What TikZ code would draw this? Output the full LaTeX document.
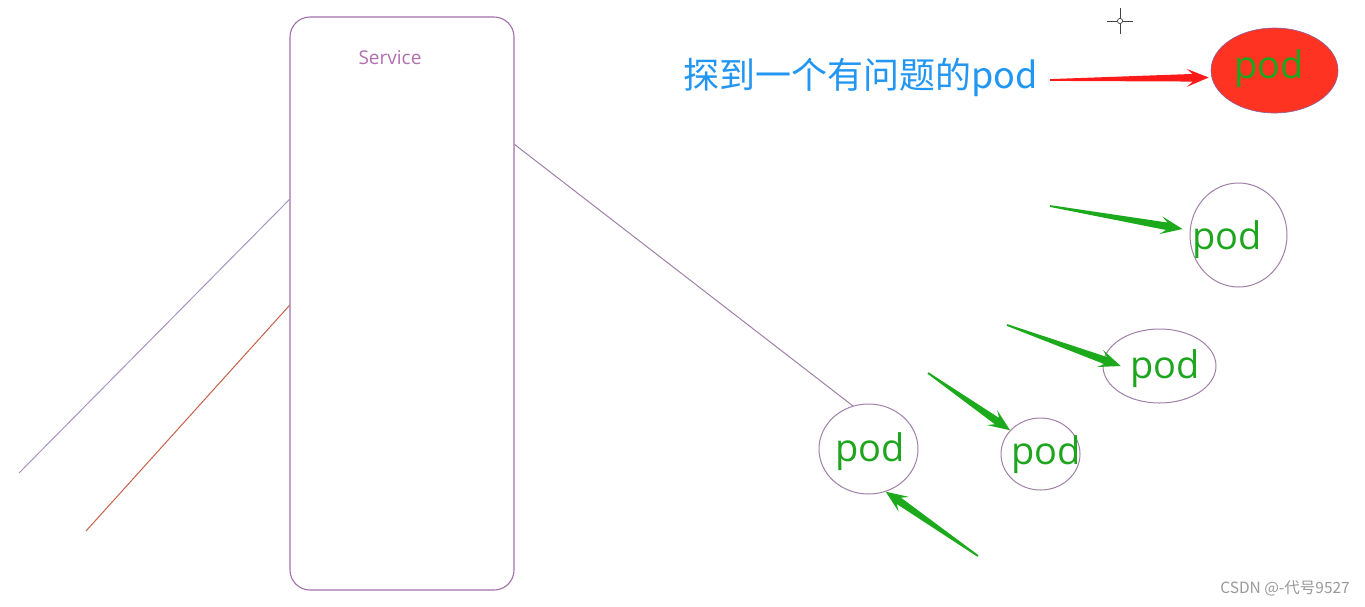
\documentclass[tikz,border=0pt]{standalone}
\usepackage{fontspec}
\setmainfont{Open Sans}
\newfontfamily\cjk{Noto Sans CJK SC}
\usetikzlibrary{calc,shapes.geometric}
\definecolor{boxc}{HTML}{A070A8}
\definecolor{svctext}{HTML}{B070B0}
\definecolor{lavline}{HTML}{A894C4}
\definecolor{redline}{HTML}{C8604A}
\definecolor{podline}{HTML}{A080A8}
\definecolor{podgreen}{HTML}{1EA51E}
\definecolor{arrgreen}{HTML}{1CAA1C}
\definecolor{arrred}{HTML}{FF1A1A}
\definecolor{podred}{HTML}{FF3322}
\definecolor{podredline}{HTML}{8A5FA0}
\definecolor{bluetext}{HTML}{2196F3}
\definecolor{wmgray}{HTML}{9A9A9A}
\newcommand\wedgearrow[3]{%
  \coordinate (was) at ($(#2)!16pt!(#1)$);
  \coordinate (wab) at ($(#2)!22pt!(#1)$);
  \fill[#3] ($(#1)!0.9pt!90:(#2)$) -- ($(was)!3.8pt!90:(#2)$) -- ($(wab)!9pt!90:(#2)$) -- (#2)
    -- ($(wab)!9pt!-90:(#2)$) -- ($(was)!3.8pt!-90:(#2)$) -- ($(#1)!0.9pt!-90:(#2)$) -- cycle;}
\tikzset{
  thinline/.style={line width=1pt},
  pod/.style={ellipse, draw=podline, line width=1pt, inner sep=0pt},
  podtext/.style={text=podgreen, font=\fontsize{38}{40}\selectfont, inner sep=0pt},
}
\begin{document}
\begin{tikzpicture}[x=1pt,y=-1pt]
\useasboundingbox[fill=white] (0,0) rectangle (1365,606);
% service box
\node[draw=boxc, line width=1.1pt, rounded corners=20pt, minimum width=224pt, minimum height=573pt, inner sep=0pt] (service) at (402,303.5) {};
\node[text=svctext, font=\fontsize{19}{21}\selectfont, inner sep=0pt] (svclabel) at (390,58) {Service};
% left lines
\coordinate (la) at (19,473);
\coordinate (lb) at (86,531);
\draw[lavline, thinline] (la) -- ($(service.north west)+(0,183)$);
\draw[redline, thinline] (lb) -- ($(service.north west)+(0,289)$);
% pods
\node[pod, minimum width=99pt, minimum height=90pt] (pod1) at (868.5,449) {};
\node[pod, minimum width=79pt, minimum height=72pt] (pod2) at (1040.5,454) {};
\node[pod, minimum width=113pt, minimum height=74pt] (pod3) at (1159.5,366) {};
\node[pod, minimum width=97pt, minimum height=104pt] (pod4) at (1238.5,235) {};
\node[ellipse, fill=podred, draw=podredline, line width=0.6pt, inner sep=0pt, minimum width=127pt, minimum height=85pt] (podr) at (1274.5,70.5) {};
\node[podtext] (t1) at (870,452) {pod};
\node[podtext] (t2) at (1046,455) {pod};
\node[podtext] (t3) at (1165,369) {pod};
\node[podtext] (t4) at (1227,240) {pod};
\node[podtext] (tr) at (1269,69) {pod};
% service to pod1
\draw[podline, thinline] ($(service.north east)+(0,128)$) -- (pod1.110);
% label text
\node[text=bluetext, font=\cjk\fontsize{36}{38}\selectfont, inner sep=0pt, anchor=west] (msg) at (683,77) {探到一个有问题的pod};
% arrows
\coordinate (ar0) at (1050,80);
\coordinate (tipr) at ($(podr.west)+(-2,7)$);
\wedgearrow{ar0}{tipr}{arrred}
\coordinate (ag1) at (1050,206);
\coordinate (tip1) at ($(pod4.west)+(-7,-6)$);
\wedgearrow{ag1}{tip1}{arrgreen}
\coordinate (ag2) at (1007,325);
\coordinate (tip2) at ($(pod3.center)!0.68!(pod3.west)$);
\wedgearrow{ag2}{tip2}{arrgreen}
\coordinate (ag3) at (928,373);
\coordinate (tip3) at (pod2.142);
\wedgearrow{ag3}{tip3}{arrgreen}
\coordinate (ag4) at (978,556);
\coordinate (tip4) at (pod1.-68);
\wedgearrow{ag4}{tip4}{arrgreen}
% cursor crosshair
\coordinate (cur) at (1120,21);
\draw[black!75, line width=1pt] ($(cur)+(-13,0)$) -- ($(cur)+(-3,0)$) ($(cur)+(3,0)$) -- ($(cur)+(13,0)$)
  ($(cur)+(0,-13)$) -- ($(cur)+(0,-3)$) ($(cur)+(0,3)$) -- ($(cur)+(0,13)$);
\draw[black!75, line width=0.7pt] (cur) circle[radius=2.6pt];
% watermark
\node[text=wmgray, font=\cjk\fontsize{15.5}{17}\selectfont, inner sep=0pt, anchor=east] (wm) at (1350,588) {CSDN @-代号9527};
\end{tikzpicture}
\end{document}
